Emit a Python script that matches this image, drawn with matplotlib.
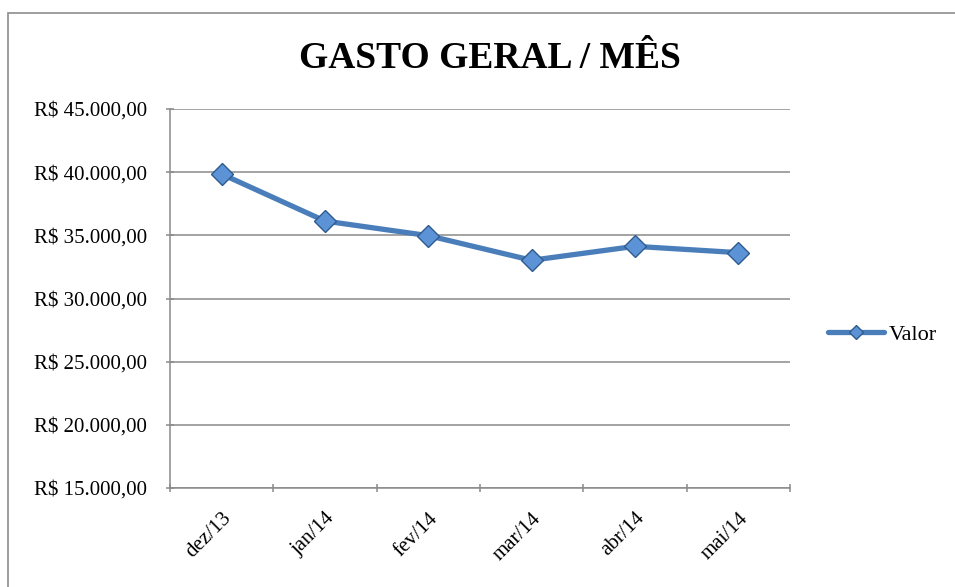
import matplotlib
matplotlib.use("Agg")
import matplotlib.pyplot as plt
from matplotlib.patches import Rectangle
from matplotlib.ticker import FuncFormatter
from matplotlib.transforms import ScaledTranslation

meses = ["dez/13", "jan/14", "fev/14", "mar/14", "abr/14", "mai/14"]
valor = [39850, 36130, 34975, 33025, 34130, 33630]
y_ticks = [15000, 20000, 25000, 30000, 35000, 40000, 45000]

plt.rcParams['font.family'] = ['Liberation Serif', 'DejaVu Serif']

fig = plt.figure(figsize=(9.55, 5.87), dpi=100)

# chart border (Excel style)
fig.patches.append(Rectangle((8 / 955, -0.1), 1.2, (587 - 13) / 587 + 0.1,
                             transform=fig.transFigure, fill=False,
                             edgecolor="#8c8c8c", linewidth=1.2))

ax = fig.add_axes([170 / 955, 99 / 587, 620 / 955, 379 / 587])

ax.plot(range(len(meses)), valor, color="#4A7EBB", linewidth=3.8,
        marker="D", markersize=11.5, markerfacecolor="#5B93D6",
        markeredgecolor="#2F5B8E", markeredgewidth=1.0, label="Valor",
        solid_capstyle="round")

ax.set_xlim(-0.5, len(meses) - 0.5)
ax.set_ylim(15000, 45000)
ax.set_yticks(y_ticks)


def brl(v, pos):
    s = f"{v:,.2f}".replace(",", "X").replace(".", ",").replace("X", ".")
    return "R$ " + s


ax.yaxis.set_major_formatter(FuncFormatter(brl))
ax.grid(axis="y", color="#8a8a8a", linewidth=1.1)
ax.set_axisbelow(True)

ax.set_xticks([i - 0.5 for i in range(len(meses) + 1)])
ax.set_xticklabels([])
ax.set_xticks(range(len(meses)), minor=True)
ax.set_xticklabels(meses, minor=True, rotation=45, ha="right",
                   rotation_mode="anchor", fontsize=15)
shift = ScaledTranslation(-4 / 100, 0, fig.dpi_scale_trans)
for lbl in ax.get_xticklabels(minor=True):
    lbl.set_transform(lbl.get_transform() + shift)
ax.tick_params(axis="x", which="minor", length=0, pad=15)
ax.tick_params(axis="x", which="major", length=6, direction="inout",
               color="#8a8a8a", width=1.1)
ax.tick_params(axis="y", length=6, direction="inout", color="#8a8a8a",
               width=1.1, labelsize=15, pad=13.5)

for s in ["top", "right"]:
    ax.spines[s].set_visible(False)
for s in ["left", "bottom"]:
    ax.spines[s].set_color("#8a8a8a")
    ax.spines[s].set_linewidth(1.1)

fig.text(490 / 955, 1 - 58 / 587, "GASTO GERAL / MÊS", ha="center", va="center",
         fontsize=27, fontweight="bold")

leg = ax.legend(loc="center left", bbox_to_anchor=(1.047, 0.405), frameon=False,
                fontsize=16, handlelength=2.5, handletextpad=0.25,
                borderaxespad=0, markerscale=0.65)

fig.savefig("out.png", dpi=100)
